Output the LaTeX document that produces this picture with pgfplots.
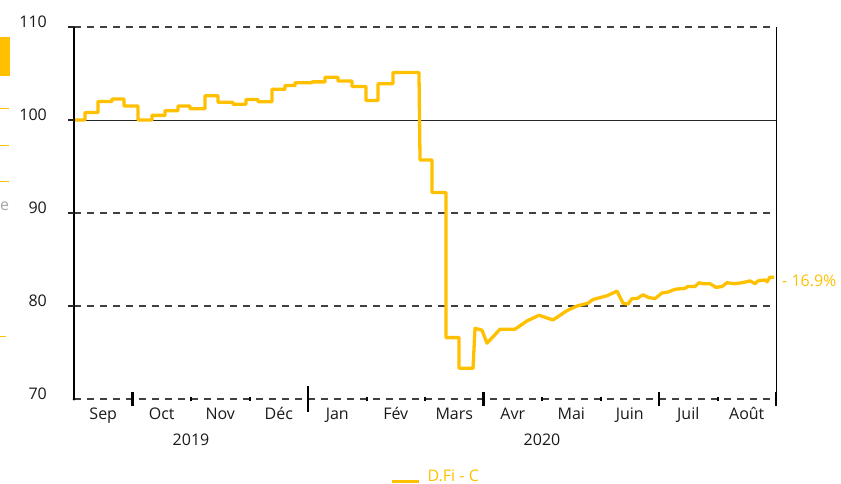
\documentclass[border=0pt]{standalone}
\usepackage{fontspec}
\setmainfont{Open Sans}
\usepackage{pgfplots}
\pgfplotsset{compat=1.18}
\definecolor{dfi}{HTML}{FFC000}
\begin{document}
\begin{tikzpicture}[x=1pt,y=1pt]
\path[use as bounding box] (0,0) rectangle (841,-484);
% fragments of a neighbouring chart at the left edge
\fill[dfi] (0,-37) rectangle (10,-76);
\draw[dfi, line width=1pt] (0,-109) -- (9,-109);
\draw[dfi, line width=1pt] (0,-146) -- (9,-146);
\draw[dfi, line width=1pt] (0,-182) -- (9,-182);
\draw[dfi, line width=1pt] (0,-336) -- (6,-336);
\node[anchor=base west, inner sep=0pt, text=gray!70, font=\fontsize{16}{19}\selectfont] at (0,-210) {e};
\begin{axis}[
  at={(74pt,-399pt)}, anchor=south west,
  scale only axis, width=702pt, height=372pt,
  xmin=0, xmax=12, ymin=70, ymax=110,
  clip=false,
  axis line style={draw=none},
  major tick length=0pt,
  xtick={0.5,1.5,2.5,3.5,4.5,5.5,6.5,7.5,8.5,9.5,10.5,11.5},
  xticklabels={Sep,Oct,Nov,Déc,Jan,Fév,Mars,Avr,Mai,Juin,Juil,Août},
  ytick={70,80,90,110},
  extra y ticks={100},
  extra y tick style={grid style={solid, black!85, line width=1pt}},
  ymajorgrids,
  grid style={black!75, line width=1.1pt, dash pattern=on 7pt off 6pt},
  ticklabel style={font=\fontsize{16}{19}\selectfont, text=black!90},
  yticklabel style={anchor=east, inner sep=0pt, xshift=-27pt, yshift=5pt},
  xticklabel style={anchor=base, yshift=-20pt},
  /pgf/number format/assume math mode=true,
  legend style={at={(0.515,-0.207)}, anchor=center, draw=none, fill=none,
    font=\fontsize{16}{19}\selectfont, text=dfi},
  legend image code/.code={\path[draw=dfi, line width=3pt] (0pt,-5pt) -- (27pt,-5pt); \path[draw=none] (0pt,0pt) -- (34pt,0pt);},
]
\addplot[dfi, line width=3.3pt, line join=round] coordinates {
(0.017,100.0) (0.188,100.0) (0.188,100.8) (0.410,100.8) (0.410,102.0) (0.650,102.0)
(0.650,102.25) (0.855,102.25) (0.855,101.5) (1.094,101.5) (1.094,100.0) (1.333,100.0)
(1.333,100.5) (1.556,100.5) (1.556,101.0) (1.778,101.0) (1.778,101.5) (1.983,101.5)
(1.983,101.2) (2.239,101.2) (2.239,102.6) (2.462,102.6) (2.462,101.9) (2.718,101.9)
(2.718,101.7) (2.940,101.7) (2.940,102.2) (3.145,102.2) (3.145,101.97) (3.385,101.97)
(3.385,103.3) (3.607,103.3) (3.607,103.7) (3.778,103.7) (3.778,104.0) (4.068,104.0)
(4.068,104.1) (4.291,104.1) (4.291,104.6) (4.513,104.6) (4.513,104.2) (4.752,104.2)
(4.752,103.6) (4.991,103.6) (4.991,102.1) (5.197,102.1) (5.197,103.9) (5.453,103.9)
(5.453,105.1) (5.897,105.1) (5.915,95.7) (6.120,95.7) (6.120,92.2) (6.359,92.2)
(6.359,76.6) (6.581,76.6) (6.581,73.3) (6.821,73.3) (6.855,77.6) (6.974,77.4)
(7.060,76.0) (7.282,77.5) (7.538,77.5) (7.744,78.4) (7.949,79.0) (8.188,78.5)
(8.427,79.5) (8.598,80.0) (8.786,80.3) (8.872,80.7) (9.111,81.1) (9.282,81.6)
(9.385,80.3) (9.470,80.2) (9.538,80.8) (9.624,80.8) (9.726,81.2) (9.829,80.9)
(9.932,80.8) (10.051,81.4) (10.154,81.5) (10.274,81.8) (10.444,81.9) (10.496,82.1)
(10.615,82.1) (10.684,82.5) (10.752,82.4) (10.872,82.4) (10.974,82.0) (11.077,82.1)
(11.162,82.5) (11.299,82.4) (11.419,82.5) (11.556,82.7) (11.641,82.4) (11.692,82.7)
(11.812,82.8) (11.846,82.6) (11.897,83.1) (11.966,83.1)
};
\addlegendentry{D.Fi - C}
% axis frame pieces
\draw[black, line width=1.2pt] (axis cs:0,110) -- (axis cs:0,70);
\draw[black, line width=0.9pt] (axis cs:12,110) -- (axis cs:12,70);
\pgfplotsinvokeforeach{110,100,90,80}{\draw[black!85, line width=1.1pt] (axis cs:-0.1,#1) -- (axis cs:0,#1);}
\fill[black] (axis cs:0,70) circle (1.5pt);
% month boundary ticks
\pgfplotsinvokeforeach{1,7,10,12}{\draw[black, line width=2.2pt] (axis cs:#1,70.75) -- (axis cs:#1,69.2);}
\draw[black, line width=2.2pt] (axis cs:4,71.4) -- (axis cs:4,68.6);
\pgfplotsinvokeforeach{2,3,5,6,8,9,11}{\draw[black, line width=2pt] (axis cs:#1,70.2) -- (axis cs:#1,69.8);}
% year labels
\node[anchor=base, inner sep=0pt, yshift=-46pt, font=\fontsize{16}{19}\selectfont, text=black!90] at (axis cs:2,70) {2019};
\node[anchor=base, inner sep=0pt, yshift=-46pt, font=\fontsize{16}{19}\selectfont, text=black!90] at (axis cs:8,70) {2020};
% end label
\node[anchor=west, inner sep=0pt, xshift=6pt, font=\fontsize{16}{19}\selectfont, text=dfi] at (axis cs:12,82.7) {- 16.9\%};
\end{axis}
\end{tikzpicture}
\end{document}
